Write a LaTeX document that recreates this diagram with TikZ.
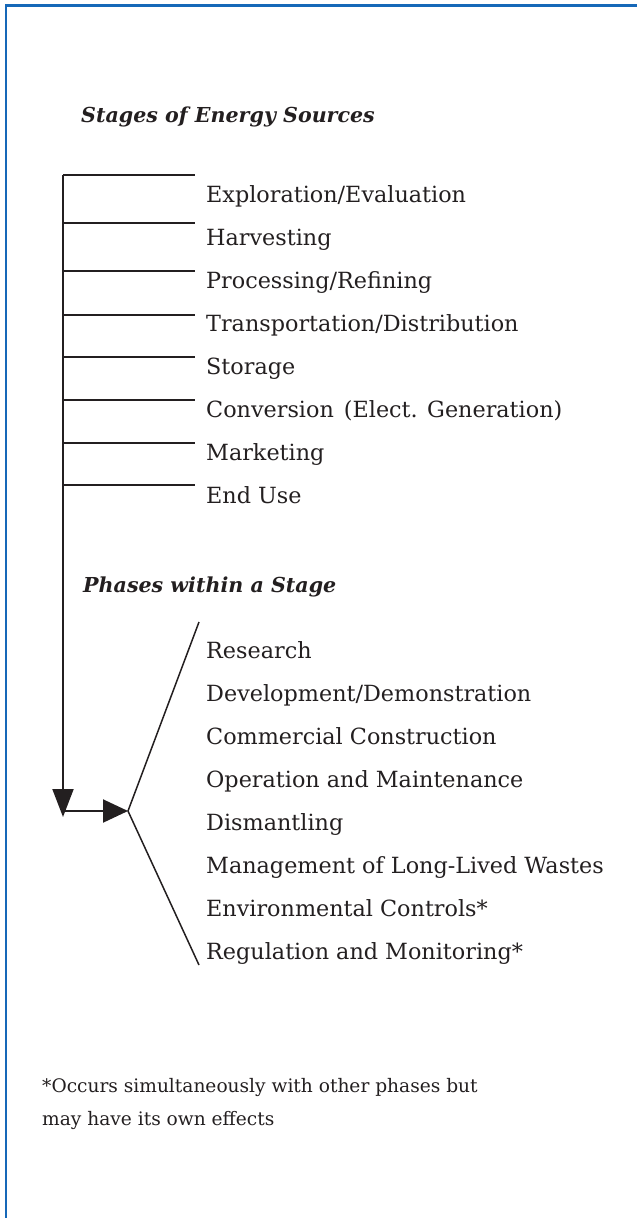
\documentclass[tikz,border=0pt]{standalone}
\usepackage{fontspec}
\setmainfont{DejaVu Serif}
\usetikzlibrary{arrows.meta}
\definecolor{frameblue}{RGB}{22,104,184}
\definecolor{ink}{RGB}{35,31,32}
\begin{document}
\begin{tikzpicture}[x=1pt,y=-1pt,
  rule/.style={line width=2pt, draw=ink},
  thin rule/.style={line width=1.5pt, draw=ink},
  lbl/.style={anchor=base west, inner sep=0pt, text=ink, font=\fontsize{22.3}{26}\selectfont},
  ttl/.style={anchor=base west, inner sep=0pt, text=ink, font=\fontsize{20.6}{24}\selectfont\bfseries\itshape},
  note/.style={anchor=base west, inner sep=0pt, text=ink, font=\fontsize{18.6}{22}\selectfont},
  tipv/.style={-{Triangle[length=28pt,width=21pt]}},
  tiph/.style={-{Triangle[length=25pt,width=23pt]}}]
\useasboundingbox (0,0) rectangle (637,1218);
% frame
\draw[frameblue, line width=2.5pt] (6,1218) -- (6,5.5) -- (637,5.5);
% titles
\node[ttl] (t1) at (81,122) {Stages of Energy Sources};
\node[ttl] (t2) at (83,592) {Phases within a Stage};
% stages
\foreach \i/\ly/\t in {1/175/{Exploration/Evaluation},2/223/{Harvesting},3/271/{Processing/Refining},4/315/{Transportation/Distribution},5/357/{Storage},6/400/{Conversion\hspace{0.45em}(Elect. Generation)},7/443/{Marketing},8/485/{End Use}}{
  \coordinate (a\i) at (63,\ly);
  \coordinate (b\i) at (195,\ly);
  \draw[rule] (a\i) -- (b\i);
  \node[lbl] (s\i) at (206,{202+43*(\i-1)}) {\t};
}
\coordinate (tip) at (63,817);
\draw[rule,tipv] (a1) -- (tip);
\coordinate (hs) at (63,811);
\coordinate (fork) at (128,811);
\draw[rule,tiph] (hs) -- (fork);
\coordinate (up) at (199,622);
\coordinate (dn) at (199,965);
\draw[thin rule] (up) -- (fork) -- (dn);
% phases
\foreach \i/\t in {1/{Research},2/{Development/Demonstration},3/{Commercial Construction},4/{Operation and Maintenance},5/{Dismantling},6/{Management of Long-Lived Wastes},7/{Environmental Controls*},8/{Regulation and Monitoring*}}{
  \node[lbl] (p\i) at (206,{658+43*(\i-1)}) {\t};
}
% note
\node[note] (n1) at (42,1092) {*Occurs simultaneously with other phases but};
\node[note] (n2) at (42,1125) {may have its own effects};
\end{tikzpicture}
\end{document}
